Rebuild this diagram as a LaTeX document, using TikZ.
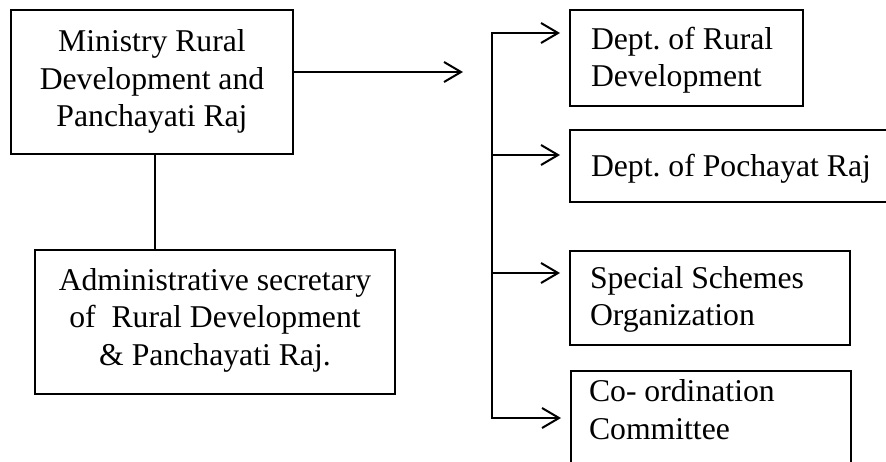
\documentclass[tikz,border=0pt]{standalone}
\usepackage{fontspec}
\setmainfont{Liberation Serif}
\usetikzlibrary{arrows.meta}
\frenchspacing
\begin{document}
\begin{tikzpicture}[x=1pt,y=-1pt,
  box/.style={draw, line width=1.8pt, inner sep=0pt, outer sep=0pt},
  txt/.style={font=\fontsize{31.7}{37.5}\selectfont, inner sep=0pt, outer sep=0pt},
  conn/.style={line width=2pt},
  arr/.style={conn, -{Straight Barb[length=17pt,width=20pt,line width=2pt]}}]
\useasboundingbox (0,0) rectangle (886,462);
\clip (0,0) rectangle (886,462);
\fill[white] (0,0) rectangle (886,462);
% left boxes
\node[box, minimum width=282pt, minimum height=144pt] (min) at (152,82) {};
\node[txt, align=center, anchor=base] (mint) at (152,127) {Ministry Rural\\Development and\\Panchayati Raj};
\node[box, minimum width=360pt, minimum height=144pt] (sec) at (215,322) {};
\node[txt, align=center, anchor=base] (sect) at (215,365) {Administrative secretary\\of\ \ Rural Development\\\& Panchayati Raj.};
% right boxes
\node[box, minimum width=233pt, minimum height=96pt] (d1) at (686.5,58) {};
\node[txt, align=left, anchor=base west] (d1t) at (591,87) {Dept. of Rural\\Development};
\node[box, minimum width=340pt, minimum height=72pt] (d2) at (740,166) {};
\node[txt, align=left, anchor=base west] (d2t) at (591,177) {Dept. of Pochayat Raj};
\node[box, minimum width=280pt, minimum height=94pt] (d3) at (710,298) {};
\node[txt, align=left, anchor=base west] (d3t) at (590,326) {Special Schemes\\Organization};
\node[box, minimum width=280pt, minimum height=130pt] (d4) at (711,436) {};
\node[txt, align=left, anchor=base west] (d4t) at (589,439) {Co- ordination\\Committee};
% connectors
\coordinate (mend) at (463,72);
\draw[arr] (min.east |- mend) -- (mend);
\draw[conn] ([xshift=3pt]min.south) -- ([xshift=3pt]min.south |- sec.north);
\coordinate (t1) at (492,33);
\coordinate (t2) at (492,155);
\coordinate (t3) at (492,273);
\coordinate (t4) at (492,418);
\draw[arr, shorten >=10pt] (t3) -- (t1) -- (t1 -| d1.west);
\draw[arr, shorten >=10pt] (t2) -- (t2 -| d2.west);
\draw[arr, shorten >=10pt] (t3) -- (t3 -| d3.west);
\draw[arr, shorten >=10pt] (t2) -- (t4) -- (t4 -| d4.west);
\end{tikzpicture}
\end{document}
